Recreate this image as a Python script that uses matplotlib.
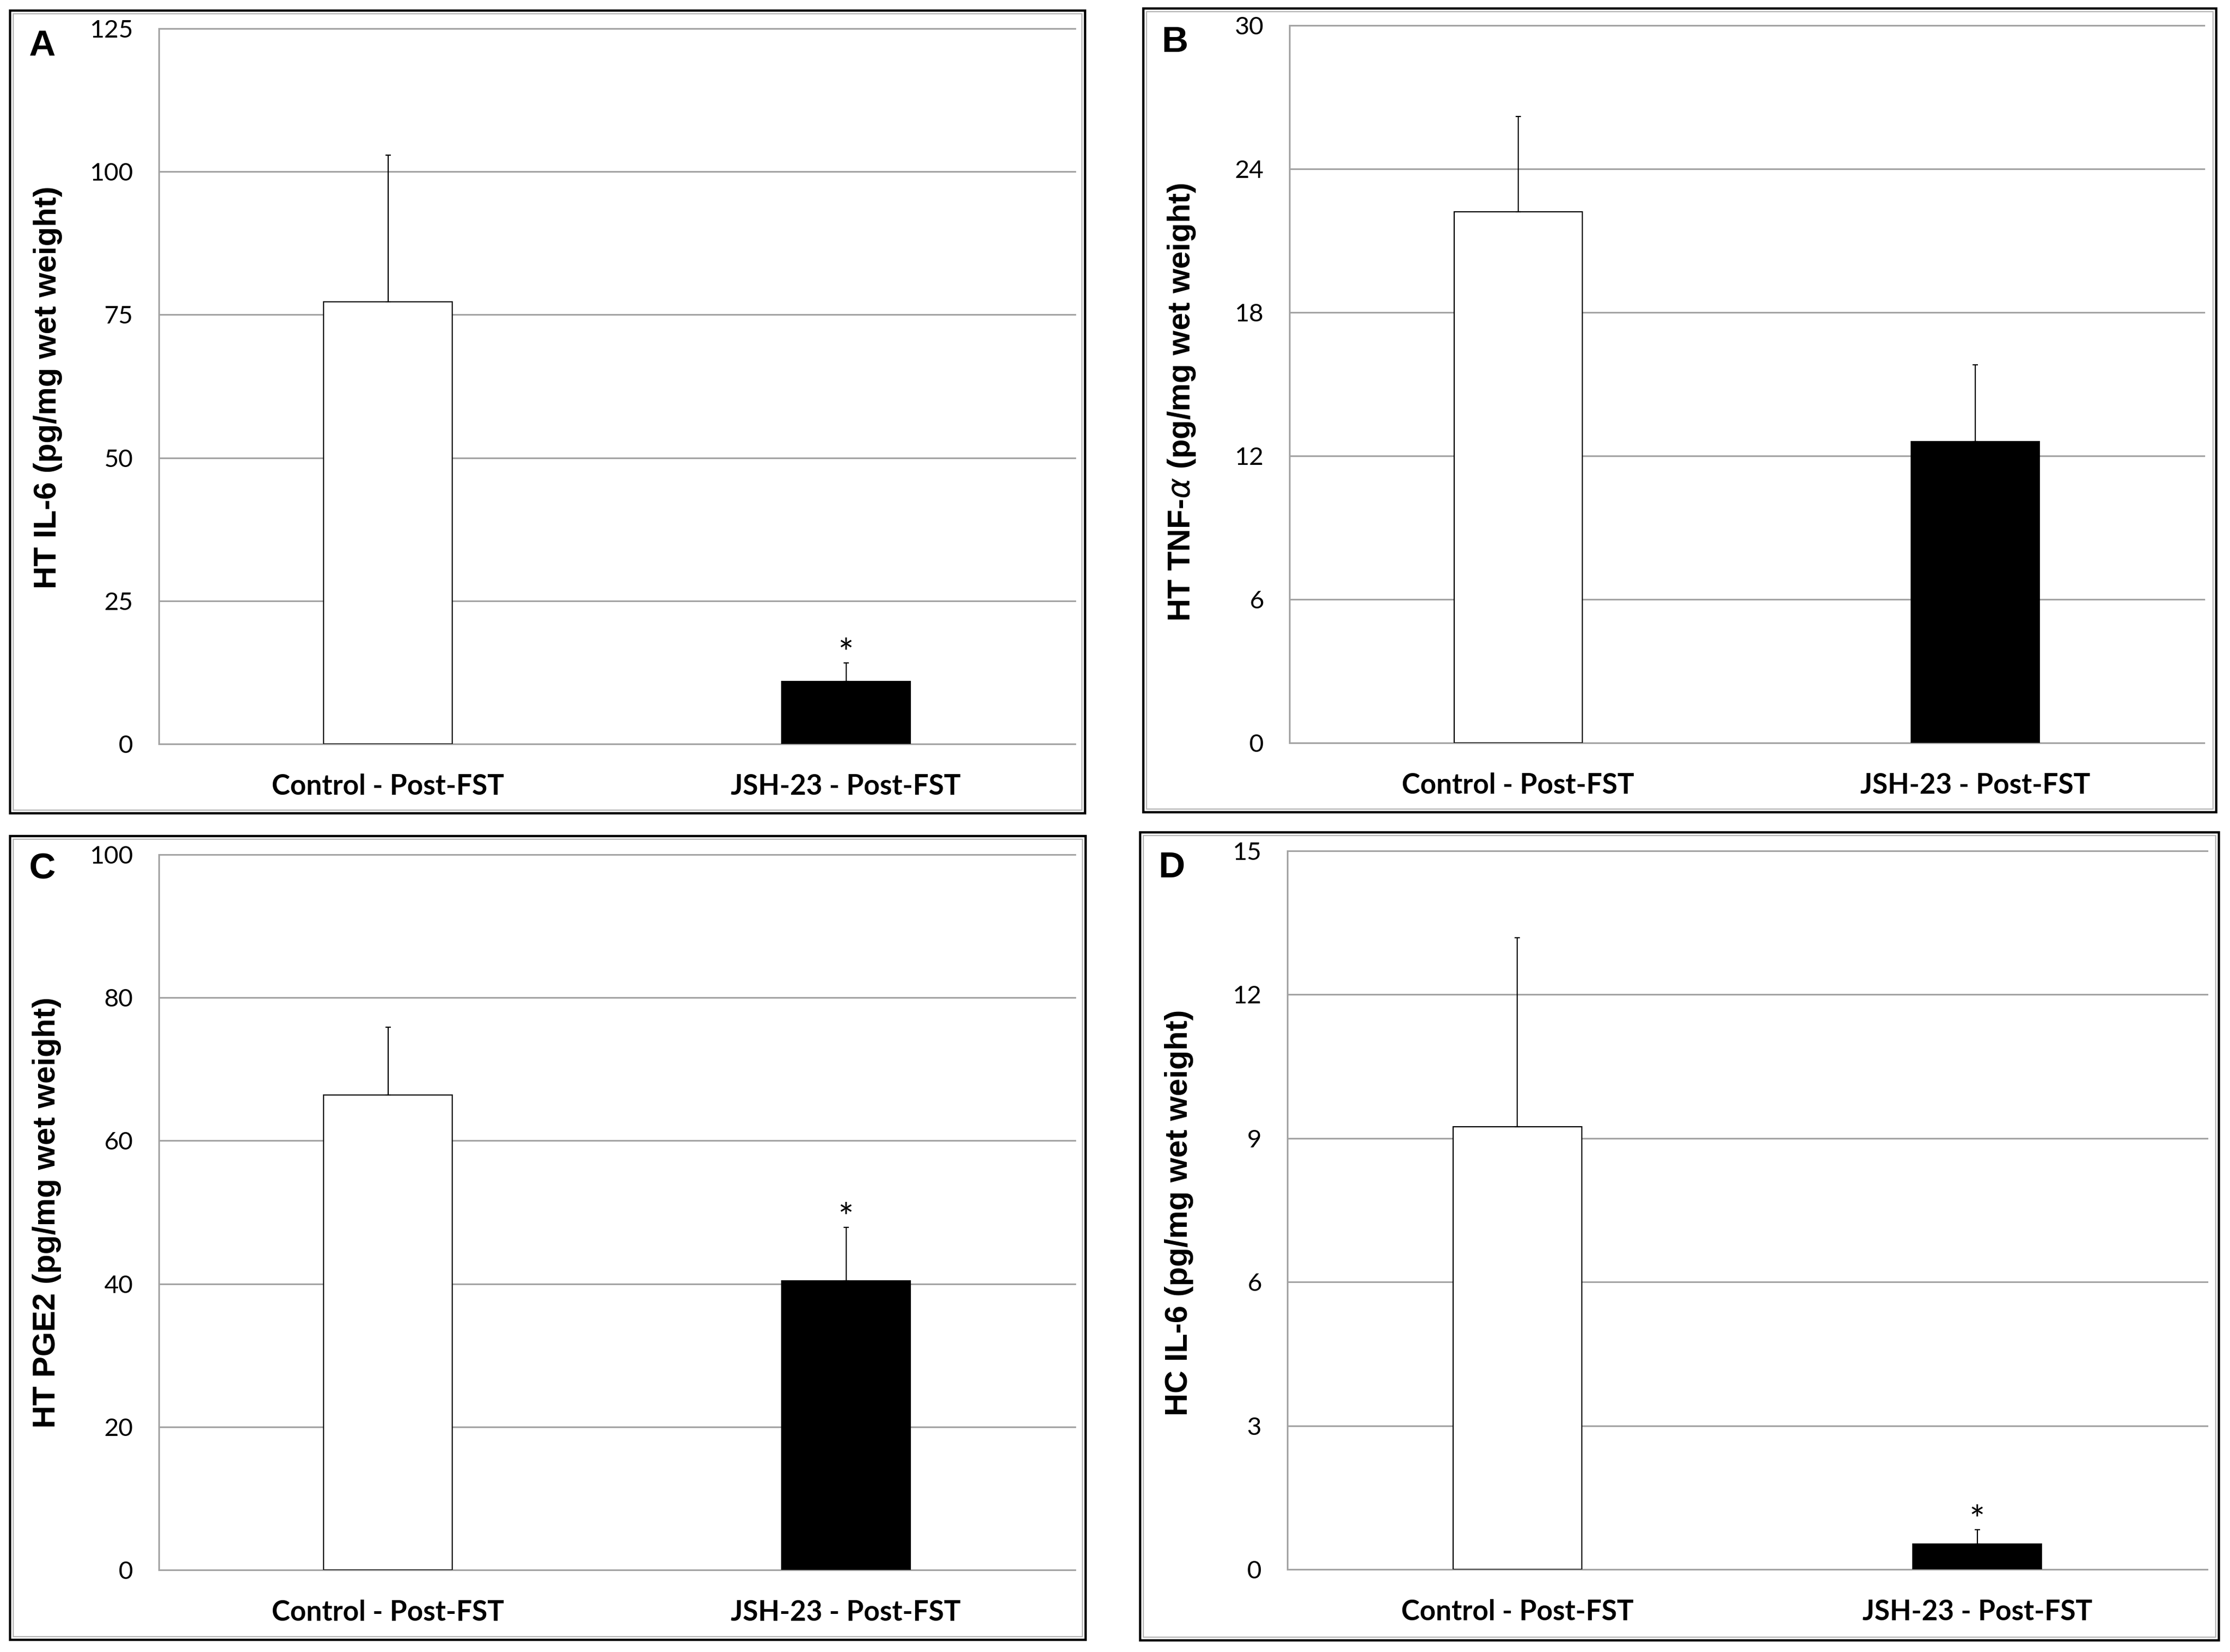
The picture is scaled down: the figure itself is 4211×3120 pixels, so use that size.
import matplotlib.pyplot as plt
from matplotlib.patches import Rectangle

W, H = 4211, 3120

groups = ["Control - Post-FST", "JSH-23 - Post-FST"]

ht_il6_mean = [77.3, 10.9]
ht_il6_sem = [25.6, 3.3]
ht_tnf_mean = [22.2, 12.6]
ht_tnf_sem = [4.0, 3.2]
ht_pge2_mean = [66.4, 40.4]
ht_pge2_sem = [9.5, 7.5]
hc_il6_mean = [9.24, 0.53]
hc_il6_sem = [3.95, 0.30]

ht_il6_sig = [False, True]
ht_tnf_sig = [False, False]
ht_pge2_sig = [False, True]
hc_il6_sig = [False, True]

letters = ["A", "B", "C", "D"]
ylabels = [
    "HT IL-6 (pg/mg wet weight)",
    r"HT TNF-$\alpha$ (pg/mg wet weight)",
    "HT PGE2 (pg/mg wet weight)",
    "HC IL-6 (pg/mg wet weight)",
]
yticks = [
    [0, 25, 50, 75, 100, 125],
    [0, 6, 12, 18, 24, 30],
    [0, 20, 40, 60, 80, 100],
    [0, 3, 6, 9, 12, 15],
]
means = [ht_il6_mean, ht_tnf_mean, ht_pge2_mean, hc_il6_mean]
sems = [ht_il6_sem, ht_tnf_sem, ht_pge2_sem, hc_il6_sem]
sigs = [ht_il6_sig, ht_tnf_sig, ht_pge2_sig, hc_il6_sig]
bar_colors = ["white", "black"]

# layout in pixels of the full image: axes (left, top, right, bottom)
axes_px = [(300, 54, 2030, 1405), (2435, 48, 4162, 1403),
           (300, 1614, 2030, 2965), (2431, 1607, 4168, 2964)]
frames_px = [(19, 20, 2049, 1536), (2159, 16, 4185, 1534),
             (19, 1579, 2050, 3097), (2153, 1572, 4190, 3098)]
label_px = [(106, 732), (2247, 760), (104, 2290), (2242, 2290)]
letter_px = [(54, 105), (2193, 98), (54, 1660), (2187, 1657)]

GRID = "#a3a3a3"

plt.rcParams["font.family"] = ["Lato", "DejaVu Sans"]
plt.rcParams["mathtext.fontset"] = "dejavusans"

fig = plt.figure(figsize=(W / 100, H / 100), dpi=100)
fig.patch.set_facecolor("white")

for i in range(4):
    l, t, r, b = axes_px[i]
    ax = fig.add_axes([l / W, 1 - b / H, (r - l) / W, (b - t) / H])
    x = [0, 1]
    ax.bar(x, means[i], width=0.28, color=bar_colors, edgecolor="black",
           linewidth=1.6, zorder=3)
    ax.errorbar(x, means[i], yerr=[[0, 0], sems[i]], fmt="none",
                ecolor="black", elinewidth=1.6, capsize=3.6, capthick=1.6,
                zorder=4)
    for j in range(2):
        if sigs[i][j]:
            ax.annotate("*", xy=(x[j], means[i][j] + sems[i][j]),
                        xytext=(0, -4), textcoords="offset points",
                        ha="center", va="baseline", fontsize=50, zorder=5)
    ax.set_xlim(-0.5, 1.5)
    ax.set_ylim(yticks[i][0], yticks[i][-1])
    ax.set_yticks(yticks[i])
    ax.set_xticks(x)
    ax.set_xticklabels(groups, fontsize=38, fontweight="bold")
    ax.tick_params(axis="y", length=0, pad=35, labelsize=34)
    ax.tick_params(axis="x", length=0, pad=40)
    ax.yaxis.grid(True, color=GRID, linewidth=2.2, zorder=0)
    ax.set_axisbelow(True)
    for side in ["top", "right", "bottom"]:
        ax.spines[side].set_visible(False)
    ax.spines["left"].set_color(GRID)
    ax.spines["left"].set_linewidth(2.2)
    for gl in ax.yaxis.get_gridlines():
        gl.set_clip_on(False)

    lx, ly = label_px[i]
    fig.text(lx / W, 1 - ly / H, ylabels[i], rotation=90,
             rotation_mode="anchor", ha="center", va="baseline",
             fontsize=43, fontweight="bold", family=["Liberation Sans", "DejaVu Sans"])
    px, py = letter_px[i]
    fig.text(px / W, 1 - py / H, letters[i], ha="left", va="baseline",
             fontsize=50, fontweight="bold", family=["Liberation Sans", "DejaVu Sans"])

    fl, ft, fr, fb = frames_px[i]
    fig.add_artist(Rectangle((fl / W, 1 - fb / H), (fr - fl) / W, (fb - ft) / H,
                             transform=fig.transFigure, fill=False,
                             edgecolor="black", linewidth=3.2))
    fig.add_artist(Rectangle(((fl + 6) / W, 1 - (fb - 6) / H),
                             (fr - fl - 12) / W, (fb - ft - 12) / H,
                             transform=fig.transFigure, fill=False,
                             edgecolor="#b5b5b5", linewidth=1.6))

fig.savefig("out.png", dpi=100, facecolor="white")
